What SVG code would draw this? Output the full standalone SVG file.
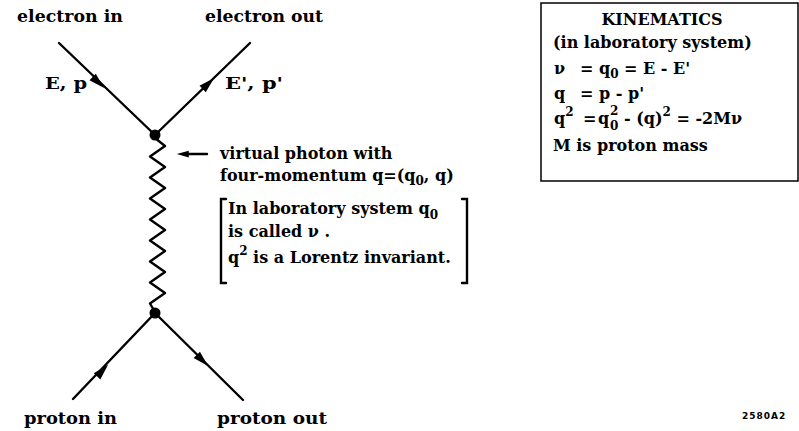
<svg xmlns="http://www.w3.org/2000/svg" width="799" height="431" viewBox="0 0 799 431">
<style>
text{font-family:"DejaVu Serif","Liberation Serif",serif;font-weight:bold;font-size:16px;fill:#000}
.ln{stroke:#000;stroke-width:2.4;fill:none;stroke-linecap:round}
.sub{font-size:12px}
.code{font-family:"DejaVu Sans","Liberation Sans",sans-serif;font-size:9px;font-weight:bold}
</style>
<defs>
<path id="ah" d="M3,0 L-13,-4.5 L-13,4.5 Z" fill="#000"/>
</defs>
<rect width="799" height="431" fill="#fff"/>
<g id="connectors">
<line class="ln" x1="59" y1="43" x2="155" y2="135"/>
<line class="ln" x1="155" y1="135" x2="250" y2="43"/>
<line class="ln" x1="73" y1="399" x2="155" y2="313"/>
<line class="ln" x1="155" y1="313" x2="243" y2="400"/>
<use href="#ah" transform="translate(102,86) rotate(43.8)"/>
<use href="#ah" transform="translate(212,80) rotate(-44)"/>
<use href="#ah" transform="translate(106,367) rotate(-46.4)"/>
<use href="#ah" transform="translate(206,364) rotate(44.7)"/>
<polyline class="ln" stroke-linejoin="round" points="155,138 165,146 150,156.5 165,167 150,177.5 165,188 150,198.5 165,209 150,219.5 165,230 150,240.5 165,251 150,261.5 165,272 150,282.5 165,293 150,303.5 155,312"/>
<line class="ln" x1="186" y1="154" x2="207" y2="154" stroke-width="1.8"/>
<use href="#ah" transform="translate(179,154) rotate(180) scale(0.75)"/>
</g>
<g id="vertex-top"><circle cx="155" cy="135" r="5.5"/></g>
<g id="vertex-bottom"><circle cx="155" cy="313" r="5.5"/></g>
<g id="electron-in"><text x="17" y="22" textLength="106" lengthAdjust="spacingAndGlyphs">electron in</text></g>
<g id="electron-out"><text x="205" y="22" textLength="118" lengthAdjust="spacingAndGlyphs">electron out</text></g>
<g id="ep"><text x="45" y="89" textLength="42" lengthAdjust="spacingAndGlyphs">E, p</text></g>
<g id="epp"><text x="225" y="89" textLength="58" lengthAdjust="spacingAndGlyphs">E', p'</text></g>
<g id="proton-in"><text x="24" y="424" textLength="93" lengthAdjust="spacingAndGlyphs">proton in</text></g>
<g id="proton-out"><text x="217" y="424" textLength="110" lengthAdjust="spacingAndGlyphs">proton out</text></g>
<g id="photon-label">
<text x="220" y="159">virtual photon with</text>
<text x="220" y="181">four-momentum q=(q<tspan class="sub" dy="4">0</tspan><tspan dy="-4">, q)</tspan></text>
</g>
<g id="note">
<path d="M226,199 L221,199 L221,283 L226,283" class="ln" stroke-width="1.8" stroke-linecap="butt"/>
<path d="M462,199 L467,199 L467,283 L462,283" class="ln" stroke-width="1.8" stroke-linecap="butt"/>
<text x="228" y="214">In laboratory system q<tspan class="sub" dy="5">0</tspan></text>
<text x="228" y="237">is called ν .</text>
<text x="228" y="263">q<tspan class="sub" dy="-8">2</tspan><tspan dy="8"> is a Lorentz invariant.</tspan></text>
</g>
<g id="kinematics">
<rect x="541" y="3" width="257" height="178" fill="none" stroke="#000" stroke-width="1.5"/>
<text x="662" y="25" text-anchor="middle">KINEMATICS</text>
<text x="553" y="48">(in laboratory system)</text>
<text x="554" y="74">ν</text>
<text x="580" y="74">= q<tspan class="sub" dy="4">0</tspan><tspan dy="-4"> = E - E'</tspan></text>
<text x="554" y="99">q</text>
<text x="580" y="99">= p - p'</text>
<text x="554" y="124">q<tspan class="sub" dy="-8">2</tspan></text>
<text x="583" y="124">=</text>
<text x="598" y="124">q</text>
<text class="sub" x="610" y="115">2</text><text class="sub" x="610" y="130">0</text>
<text x="624" y="124">- (q)<tspan class="sub" dy="-8">2</tspan><tspan dy="8"> = -2Mν</tspan></text>
<text x="553" y="151">M is proton mass</text>
</g>
<g id="code"><text class="code" x="742" y="419" letter-spacing="1">2580A2</text></g>
</svg>
